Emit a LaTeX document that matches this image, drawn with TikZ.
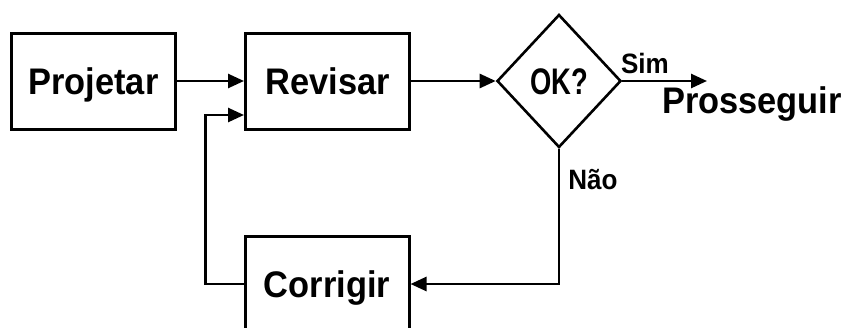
\documentclass[tikz,border=0pt]{standalone}
\usepackage{fontspec}
\setmainfont{Liberation Sans}
\usetikzlibrary{shapes.geometric,arrows.meta,calc}
\newcommand{\narrow}[2]{\scalebox{#1}[1]{#2}}
\begin{document}
\begin{tikzpicture}[x=1pt,y=-1pt,
  bigtext/.style={font=\fontsize{37}{42}\selectfont\bfseries, text height=27pt, text depth=0pt},
  stepbox/.style={draw, line width=3pt, rectangle, minimum width=164pt, minimum height=96pt,
    inner sep=0pt, bigtext},
  decision/.style={draw, line width=2.6pt, diamond, minimum width=124pt, minimum height=133pt,
    inner sep=0pt, bigtext},
  flow/.style={line width=2.6pt, -{Triangle[length=16pt,width=14pt]}},
  tag/.style={font=\fontsize{28}{32}\selectfont\bfseries, inner sep=0pt, text height=20pt, text depth=0pt}]
  \useasboundingbox (0,0) rectangle (849,327);
  \begin{scope}
    \clip (0,0) rectangle (849,327);
    \node[stepbox] (proj) at (93.5,81) {\narrow{0.93}{Projetar}};
    \node[stepbox] (rev) at (327.5,81) {\narrow{0.93}{Revisar}};
    \node[stepbox] (cor) at (327,284) {\narrow{0.93}{Corrigir}};
    \node[decision] (dia) at (559,81) {\narrow{0.74}{OK?}};
    \coordinate (go) at (707,81);
    \node[bigtext, inner sep=0pt] (next) at (752,100) {\narrow{0.93}{Prosseguir}};

    \draw[flow] (proj.east) -- (rev.west);
    \draw[flow] (rev.east) -- (dia.west);
    \draw[flow] (dia.east) -- (go);
    \draw[flow] (dia.south) |- (cor.east);
    \draw[flow] (cor.west) -- ++(-38,0) |- ($(rev.west)+(0,34)$);

    \node[tag] (sim) at (645,63) {\narrow{0.93}{Sim}};
    \node[tag] (nao) at (593,179) {\narrow{0.93}{Não}};
  \end{scope}
\end{tikzpicture}
\end{document}
